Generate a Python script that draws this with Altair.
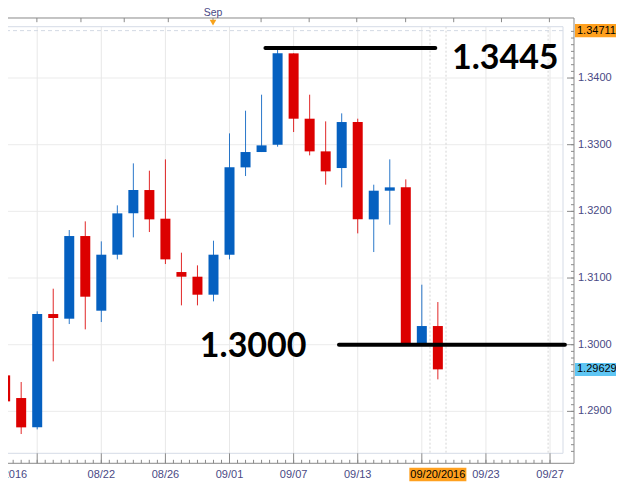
import altair as alt
import pandas as pd

# ---------------- data ----------------
dates = ["08/12", "08/15", "08/16", "08/17", "08/18", "08/19", "08/22", "08/23",
         "08/24", "08/25", "08/26", "08/29", "08/30", "08/31", "09/01", "09/02",
         "09/05", "09/06", "09/07", "09/08", "09/09", "09/12", "09/13", "09/14",
         "09/15", "09/16", "09/19", "09/20"]
opens = [1.2954, 1.2920, 1.2876, 1.3046, 1.3039, 1.3163, 1.3051, 1.3135,
         1.3197, 1.3232, 1.3189, 1.3109, 1.3102, 1.3075, 1.3135, 1.3266,
         1.3289, 1.3300, 1.3437, 1.3339, 1.3290, 1.3265, 1.3334, 1.3188,
         1.3231, 1.3236, 1.2999, 1.3028]
highs = [1.3034, 1.2944, 1.3050, 1.3084, 1.3172, 1.3185, 1.3155, 1.3209,
         1.3272, 1.3261, 1.3278, 1.3138, 1.3119, 1.3156, 1.3317, 1.3351,
         1.3375, 1.3445, 1.3437, 1.3375, 1.3335, 1.3347, 1.3339, 1.3240,
         1.3278, 1.3248, 1.3090, 1.3064]
lows = [1.2904, 1.2866, 1.2873, 1.2975, 1.3031, 1.3023, 1.3034, 1.3128,
        1.3161, 1.3169, 1.3121, 1.3059, 1.3059, 1.3065, 1.3128, 1.3253,
        1.3289, 1.3297, 1.3319, 1.3284, 1.3240, 1.3236, 1.3167, 1.3139,
        1.3180, 1.2999, 1.2999, 1.2948]
closes = [1.2915, 1.2876, 1.3046, 1.3040, 1.3163, 1.3072, 1.3135, 1.3197,
          1.3232, 1.3188, 1.3128, 1.3102, 1.3075, 1.3135, 1.3266, 1.3289,
          1.3299, 1.3437, 1.3339, 1.3290, 1.3260, 1.3334, 1.3188, 1.3231,
          1.3236, 1.2999, 1.3028, 1.2963]

price_ticks = [1.2900, 1.3000, 1.3100, 1.3200, 1.3300, 1.3400]
price_labels = ["1.2900", "1.3000", "1.3100", "1.3200", "1.3300", "1.3400"]
minor_price_ticks = [round(1.284 + 0.001 * k, 3) for k in range(64)]

date_tick_pos = [2, 6, 10, 14, 18, 22, 26, 30, 34]
date_tick_labels = ["08/16/2016", "08/22", "08/26", "09/01", "09/07", "09/13", "09/19", "09/23", "09/27"]
minor_date_ticks = [k / 2 for k in range(1, 69)]

top_tick_pos = [1.98, 4.73, 7.43, 10.18, 12.97, 15.97, 18.97, 21.94, 24.99, 27.99, 30.97, 33.96]
month_label = "Sep"
month_pos = 12.97

period_high = 1.34711
last_price = 1.29629
last_index = 27
last_date_label = "09/20/2016"

ann_levels = [1.3445, 1.3000]
ann_texts = ["1.3445", "1.3000"]
ann_x0 = [16.24, 20.83]
ann_x1 = [26.84, 34.93]
ann_text_x = [27.88, 12.15]
ann_text_p = [1.34131, 1.29811]

dotted_v = [26.51, 27.51, 33.88]

# ---------------- layout ----------------
W = 555
H = 426.6
xs = alt.Scale(domain=[0.49, 34.497], nice=False, zero=False)
ys = alt.Scale(domain=[1.28371, 1.34770], nice=False, zero=False)
AXIS_COL = "#8a8a8a"
LABEL_COL = "#4a4a85"
FONT = "Liberation Sans"

candles = pd.DataFrame({"i": list(range(len(dates))), "date": dates, "open": opens,
                        "high": highs, "low": lows, "close": closes})
candles["dir"] = ["up" if c >= o else "down" for o, c in zip(opens, closes)]
color = alt.Color("dir:N", scale=alt.Scale(domain=["up", "down"], range=["#0560c0", "#dc0000"]), legend=None)

X = lambda f: alt.X(f, scale=xs, axis=None)
Y = lambda f: alt.Y(f, scale=ys, axis=None)
one = pd.DataFrame({"a": [0]})

hgrid = alt.Chart(pd.DataFrame({"p": price_ticks})).mark_rule(color="#ebebeb").encode(y=Y("p:Q"))
vgrid = alt.Chart(pd.DataFrame({"x": date_tick_pos})).mark_rule(color="#e8e8e8").encode(x=X("x:Q"))
vdots = alt.Chart(pd.DataFrame({"x": dotted_v})).mark_rule(color="#d4d4d4", strokeDash=[2, 2]).encode(x=X("x:Q"))
hdash = alt.Chart(pd.DataFrame({"p": [period_high]})).mark_rule(color="#d3dae4", strokeDash=[4, 3]).encode(y=Y("p:Q"))

frame_col = "#d5dbe6"
frame_top = alt.Chart(one).mark_rule(color=frame_col).encode(x=alt.value(0), x2=alt.value(W), y=alt.value(0))
frame_bot = alt.Chart(one).mark_rule(color=frame_col).encode(x=alt.value(0), x2=alt.value(W), y=alt.value(H))
frame_right = alt.Chart(one).mark_rule(color=frame_col).encode(x=alt.value(W), y=alt.value(0), y2=alt.value(H))

wicks = alt.Chart(candles).mark_rule(strokeWidth=1, opacity=0.85).encode(
    x=X("i:Q"), y=Y("low:Q"), y2="high:Q", color=color)
bodies = alt.Chart(candles).mark_bar(size=10).encode(
    x=X("i:Q"), y=Y("open:Q"), y2="close:Q", color=color)

ann_df = pd.DataFrame({"x0": ann_x0, "x1": ann_x1, "p": ann_levels})
ann_lines = alt.Chart(ann_df).mark_rule(strokeWidth=4, strokeCap="round", color="black").encode(
    x=X("x0:Q"), x2="x1:Q", y=Y("p:Q"))
ann_tdf = pd.DataFrame({"x": ann_text_x, "p": ann_text_p, "t": ann_texts})
ann_text = alt.Chart(ann_tdf).mark_text(font="Lato", fontSize=34, fontWeight="bold", align="left",
                                        baseline="alphabetic", color="black").encode(
    x=X("x:Q"), y=Y("p:Q"), text="t:N")

# outer axis lines
ax_top = alt.Chart(one).mark_rule(color=AXIS_COL).encode(x=alt.value(0), x2=alt.value(W + 11), y=alt.value(-8.7))
ax_bot = alt.Chart(one).mark_rule(color=AXIS_COL).encode(x=alt.value(0), x2=alt.value(W + 11), y=alt.value(H + 10))
ax_right = alt.Chart(one).mark_rule(color=AXIS_COL).encode(x=alt.value(W + 11), y=alt.value(-8.7), y2=alt.value(H + 10))

# right axis ticks + labels
r_minor = alt.Chart(pd.DataFrame({"p": minor_price_ticks})).mark_rule(color=AXIS_COL).encode(
    y=Y("p:Q"), x=alt.value(W + 8), x2=alt.value(W + 11))
r_major = alt.Chart(pd.DataFrame({"p": price_ticks})).mark_rule(color=AXIS_COL).encode(
    y=Y("p:Q"), x=alt.value(W + 4), x2=alt.value(W + 11))
r_labels = alt.Chart(pd.DataFrame({"p": price_ticks, "t": price_labels})).mark_text(
    font=FONT, fontSize=11, align="left", baseline="middle", color=LABEL_COL).encode(
    y=Y("p:Q"), x=alt.value(W + 15), text="t:N")

# bottom axis ticks + labels
b_minor = alt.Chart(pd.DataFrame({"x": minor_date_ticks})).mark_rule(color=AXIS_COL).encode(
    x=X("x:Q"), y=alt.value(H + 6.5), y2=alt.value(H + 10))
b_major = alt.Chart(pd.DataFrame({"x": date_tick_pos})).mark_rule(color=AXIS_COL).encode(
    x=X("x:Q"), y=alt.value(H), y2=alt.value(H + 10))
bl_df = pd.DataFrame({"x": date_tick_pos, "t": date_tick_labels})
b_labels = alt.Chart(bl_df[(bl_df.x > 2) & (bl_df.x != 26)]).mark_text(
    font=FONT, fontSize=11, align="center", baseline="middle", color=LABEL_COL).encode(
    x=X("x:Q"), y=alt.value(H + 21.5), text="t:N")
b_first = alt.Chart(bl_df[bl_df.x == 2]).mark_text(
    font=FONT, fontSize=11, align="right", dx=-10, baseline="middle", color=LABEL_COL).encode(
    x=X("x:Q"), y=alt.value(H + 21.5), text="t:N")

# top axis
t_ticks = alt.Chart(pd.DataFrame({"x": top_tick_pos})).mark_rule(color=AXIS_COL).encode(
    x=X("x:Q"), y=alt.value(-8.7), y2=alt.value(-4.5))
t_label = alt.Chart(pd.DataFrame({"x": [month_pos], "t": [month_label]})).mark_text(
    font=FONT, fontSize=10.5, align="center", baseline="middle", color=LABEL_COL).encode(
    x=X("x:Q"), y=alt.value(-13.5), text="t:N")
t_marker = alt.Chart(pd.DataFrame({"x": [month_pos]})).mark_point(
    shape="triangle-down", filled=True, color="#f7a21b", size=45, opacity=1).encode(
    x=X("x:Q"), y=alt.value(-4))

# price boxes on the right
half = 0.00098
hi_df = pd.DataFrame({"p": [period_high], "t": [f"{period_high:.5f}"]})
hi_df["lo"] = hi_df["p"] - half
hi_df["up"] = hi_df["p"] + half
last_df = pd.DataFrame({"p": [last_price], "t": [f"{last_price:.5f}"]})
last_df["lo"] = last_df["p"] - half
last_df["up"] = last_df["p"] + half

hi_box = alt.Chart(hi_df).mark_rect(color="#ffa01e").encode(
    x=alt.value(W + 12), x2=alt.value(W + 53), y=Y("lo:Q"), y2="up:Q")
last_box = alt.Chart(last_df).mark_rect(color="#5fc6f4").encode(
    x=alt.value(W + 12), x2=alt.value(W + 53), y=Y("lo:Q"), y2="up:Q")
hi_text = alt.Chart(hi_df).mark_text(font=FONT, fontSize=11, align="left", baseline="middle", color="black").encode(
    x=alt.value(W + 14), y=Y("p:Q"), text="t:N")
last_text = alt.Chart(last_df).mark_text(font=FONT, fontSize=11, align="left", baseline="middle", color="black").encode(
    x=alt.value(W + 14), y=Y("p:Q"), text="t:N")

# current date box on the bottom
db = pd.DataFrame({"x": [last_index], "t": [last_date_label]})
db["x0"] = db["x"] - 1.78
db["x1"] = db["x"] + 1.78
d_box = alt.Chart(db).mark_rect(color="#ffa01e").encode(
    x=X("x0:Q"), x2="x1:Q", y=alt.value(H + 14.5), y2=alt.value(H + 28))
d_text = alt.Chart(db).mark_text(font=FONT, fontSize=11, align="center", baseline="middle", color="black").encode(
    x=X("x:Q"), y=alt.value(H + 21.5), text="t:N")

chart = alt.layer(
    hgrid, vgrid, vdots, hdash, frame_top, frame_bot, frame_right,
    wicks, bodies, ann_lines, ann_text,
    ax_top, ax_bot, ax_right, r_minor, r_major, r_labels,
    b_minor, b_major, b_labels, b_first,
    t_ticks, t_label, t_marker,
    hi_box, last_box, hi_text, last_text, d_box, d_text,
).properties(
    width=W, height=H,
    autosize=alt.AutoSizeParams(type="none"),
    padding={"left": 0, "top": 18.7, "right": 53, "bottom": 30},
    background="white",
).configure_view(strokeWidth=0)

chart.save("out.html", embed_options={"renderer": "svg", "actions": False})
